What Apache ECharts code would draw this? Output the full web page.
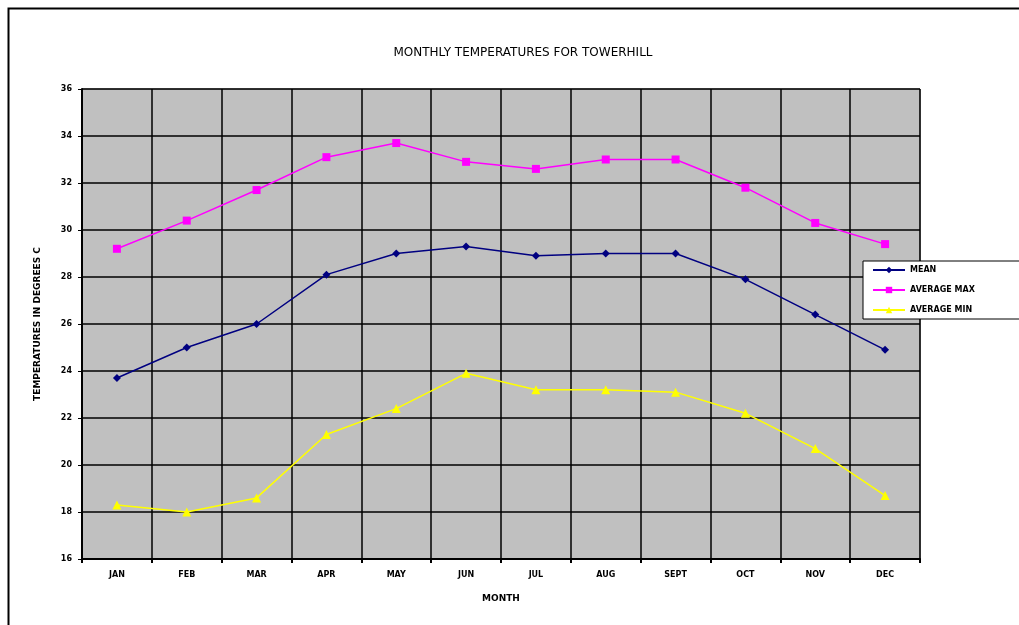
<!DOCTYPE html>
<html>
<head>
<meta charset="utf-8">
<script src="https://cdn.jsdelivr.net/npm/echarts@6/dist/echarts.min.js"></script>
<style>
html,body{margin:0;padding:0;background:#ffffff;}
#chart{width:1019px;height:625px;}
</style>
</head>
<body>
<div id="chart"></div>
<script>
const months = ['JAN','FEB','MAR','APR','MAY','JUN','JUL','AUG','SEPT','OCT','NOV','DEC'];
const meanTemp = [23.7, 25.0, 26.0, 28.1, 29.0, 29.3, 28.9, 29.0, 29.0, 27.9, 26.4, 24.9];
const avgMax = [29.2, 30.4, 31.7, 33.1, 33.7, 32.9, 32.6, 33.0, 33.0, 31.8, 30.3, 29.4];
const avgMin = [18.3, 18.0, 18.6, 21.3, 22.4, 23.9, 23.2, 23.2, 23.1, 22.2, 20.7, 18.7];
const chartTitle = 'MONTHLY TEMPERATURES FOR TOWERHILL';
const yName = 'TEMPERATURES IN DEGREES C';
const xName = 'MONTH';

const font = 'DejaVu Sans, Liberation Sans, Arial, sans-serif';
const chart = echarts.init(document.getElementById('chart'));
chart.setOption({
  backgroundColor: '#ffffff',
  animation: false,
  title: {
    text: chartTitle,
    left: 518, top: 42, textAlign: 'center',
    textStyle: {fontFamily: font, fontSize: 12, fontWeight: 'normal', color: '#000'}
  },
  graphic: [{
    type: 'rect', left: 6, top: 6, silent: true,
    shape: {width: 1040, height: 660},
    style: {fill: 'none', stroke: '#000', lineWidth: 2}
  }],
  legend: {
    orient: 'vertical', left: 863, top: 261,
    backgroundColor: '#ffffff', borderColor: '#000', borderWidth: 1,
    padding: [5, 70, 5, 9], itemWidth: 32, itemHeight: 8, itemGap: 12,
    textStyle: {fontFamily: font, fontSize: 8, fontWeight: 'bold', color: '#000'},
    data: ['MEAN', 'AVERAGE MAX', 'AVERAGE MIN']
  },
  grid: {left: 82, top: 89, right: 99, bottom: 66, show: true, backgroundColor: '#c0c0c0', borderColor: '#808080', borderWidth: 1},
  xAxis: {
    type: 'category', data: months, boundaryGap: true,
    name: xName, nameLocation: 'middle', nameGap: 35,
    nameTextStyle: {fontFamily: font, fontSize: 9, fontWeight: 'bold', color: '#000'},
    axisLine: {lineStyle: {color: '#000', width: 2}},
    axisTick: {show: true, length: 4, lineStyle: {color: '#000', width: 2}},
    axisLabel: {fontFamily: font, fontSize: 8, fontWeight: 'bold', color: '#000', margin: 12},
    splitLine: {show: true, lineStyle: {color: '#000', width: 1.5}}
  },
  yAxis: {
    type: 'value', min: 16, max: 36, interval: 2,
    name: yName, nameLocation: 'middle', nameGap: 40,
    nameTextStyle: {fontFamily: font, fontSize: 9, fontWeight: 'bold', color: '#000'},
    axisLine: {show: true, lineStyle: {color: '#000', width: 2}},
    axisTick: {show: true, length: 4, lineStyle: {color: '#000', width: 1}},
    axisLabel: {fontFamily: font, fontSize: 8, fontWeight: 'bold', color: '#000', margin: 10},
    splitLine: {show: true, lineStyle: {color: '#000', width: 1.5}}
  },
  series: [
    {name: 'MEAN', type: 'line', data: meanTemp, symbol: 'diamond', symbolSize: 8,
     itemStyle: {color: '#000080'}, lineStyle: {color: '#000080', width: 1.5}},
    {name: 'AVERAGE MAX', type: 'line', data: avgMax, symbol: 'rect', symbolSize: 8,
     itemStyle: {color: '#ff00ff'}, lineStyle: {color: '#ff00ff', width: 1.5}},
    {name: 'AVERAGE MIN', type: 'line', data: avgMin, symbol: 'triangle', symbolSize: 9,
     itemStyle: {color: '#ffff00'}, lineStyle: {color: '#ffff00', width: 1.5}}
  ]
});
</script>
</body>
</html>
